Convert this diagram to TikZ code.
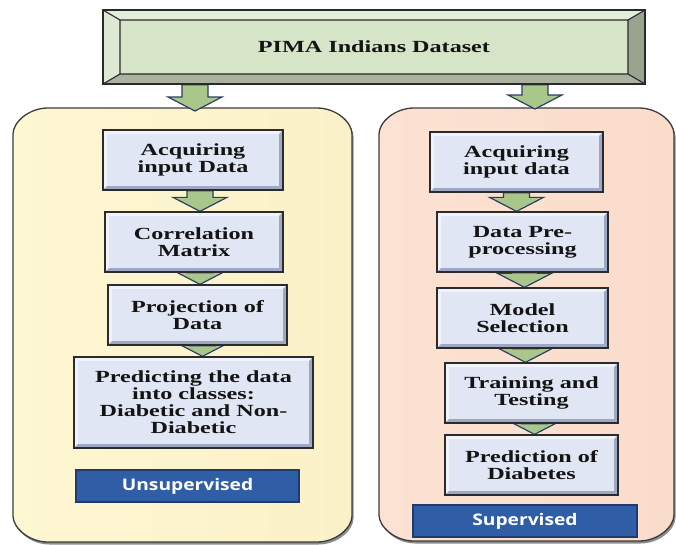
\documentclass[tikz,border=0pt]{standalone}
\usepackage{fontspec}
\setmainfont{Liberation Serif}
\newfontfamily\boxfont[FakeStretch=1.42]{Liberation Serif}
\newfontfamily\tagfont[FakeStretch=1.2]{Open Sans}
\usetikzlibrary{calc}
\pgfdeclarelayer{panels}
\pgfdeclarelayer{links}
\pgfsetlayers{panels,links,main}

\definecolor{textdark}{HTML}{141414}
\definecolor{bannerface}{HTML}{D6E4C8}
\definecolor{bannertop}{HTML}{E4EDDA}
\definecolor{bannerleft}{HTML}{DEE9D4}
\definecolor{bannerright}{HTML}{9AA38E}
\definecolor{bannerbottom}{HTML}{AAB39F}
\definecolor{framedark}{HTML}{2A2A2A}
\definecolor{yellowA}{HTML}{FDF7D2}
\definecolor{yellowB}{HTML}{FBF1C8}
\definecolor{peachA}{HTML}{FCE2D3}
\definecolor{peachB}{HTML}{FADCCB}
\definecolor{panelline}{HTML}{3C3C3C}
\definecolor{shadowgray}{HTML}{8C8C8C}
\definecolor{boxface}{HTML}{E1E6F5}
\definecolor{bevlight}{HTML}{F1F3FB}
\definecolor{bevdark}{HTML}{9EA8C3}
\definecolor{boxline}{HTML}{2B2B2B}
\definecolor{arrowfill}{HTML}{A9C78B}
\definecolor{arrowline}{HTML}{2D3F66}
\definecolor{tagfill}{HTML}{2F5DA6}
\definecolor{tagline}{HTML}{1E3A6E}

% four bevel strips inside a rectangular node: #1 = x width, #2 = y width
\newcommand\bevelstrips[4]{%
  \fill[#3] let \p1=(path picture bounding box.south west), \p2=(path picture bounding box.north east) in
    (\x1,\y2) -- (\x2,\y2) -- (\x2-#1,\y2-#2) -- (\x1+#1,\y2-#2) -- cycle;
  \fill[#3] let \p1=(path picture bounding box.south west), \p2=(path picture bounding box.north east) in
    (\x1,\y1) -- (\x1,\y2) -- (\x1+#1,\y2-#2) -- (\x1+#1,\y1+#2) -- cycle;
  \fill[#4] let \p1=(path picture bounding box.south west), \p2=(path picture bounding box.north east) in
    (\x2,\y1) -- (\x2,\y2) -- (\x2-#1,\y2-#2) -- (\x2-#1,\y1+#2) -- cycle;
  \fill[#4] let \p1=(path picture bounding box.south west), \p2=(path picture bounding box.north east) in
    (\x1,\y1) -- (\x2,\y1) -- (\x2-#1,\y1+#2) -- (\x1+#1,\y1+#2) -- cycle;
}

\begin{document}
\begin{tikzpicture}[x=1pt,y=-1pt,
  stepbox/.style={draw=boxline, line width=1.3pt, fill=boxface, text=textdark,
    align=center, inner sep=2pt,
    font=\boxfont\bfseries\fontsize{17}{17}\selectfont,
    path picture={\bevelstrips{4pt}{4pt}{bevlight}{bevdark}}},
  tagbox/.style={draw=tagline, line width=1.4pt, fill=tagfill, text=white,
    minimum height=32pt, inner sep=0pt,
    font=\tagfont\bfseries\fontsize{16}{16}\selectfont},
  blockarrow/.style={fill=arrowfill, draw=arrowline, line width=1.2pt, line join=miter,
    to path={let \p1=(\tikztostart), \p2=(\tikztotarget) in
      (\x1-13pt,\y1) -- (\x1+13pt,\y1) -- (\x1+13pt,\y2+14pt) -- (\x1+27pt,\y2+14pt)
      -- (\x1,\y2) -- (\x1-27pt,\y2+14pt) -- (\x1-13pt,\y2+14pt) -- cycle}},
  panelshape/.style={draw=panelline, line width=1.3pt},
]
\useasboundingbox (0,0) rectangle (676,544);

% ---------- dataset banner ----------
\node[draw=framedark, line width=1.3pt, fill=bannerface, minimum width=542pt,
      minimum height=74pt, inner sep=0pt, text=textdark,
      font=\boxfont\bfseries\fontsize{17}{17}\selectfont,
      path picture={%
        \fill[bannertop] let \p1=(path picture bounding box.south west), \p2=(path picture bounding box.north east) in
          (\x1,\y2) -- (\x2,\y2) -- (\x2-17pt,\y2-10pt) -- (\x1+17pt,\y2-10pt) -- cycle;
        \fill[bannerleft] let \p1=(path picture bounding box.south west), \p2=(path picture bounding box.north east) in
          (\x1,\y1) -- (\x1,\y2) -- (\x1+17pt,\y2-10pt) -- (\x1+17pt,\y1+10pt) -- cycle;
        \fill[bannerright] let \p1=(path picture bounding box.south west), \p2=(path picture bounding box.north east) in
          (\x2,\y1) -- (\x2,\y2) -- (\x2-17pt,\y2-10pt) -- (\x2-17pt,\y1+10pt) -- cycle;
        \fill[bannerbottom] let \p1=(path picture bounding box.south west), \p2=(path picture bounding box.north east) in
          (\x1,\y1) -- (\x2,\y1) -- (\x2-17pt,\y1+10pt) -- (\x1+17pt,\y1+10pt) -- cycle;
        \draw[framedark, line width=1.1pt] let \p1=(path picture bounding box.south west), \p2=(path picture bounding box.north east) in
          (\x1+17pt,\y1+10pt) rectangle (\x2-17pt,\y2-10pt)
          (\x1,\y1) -- (\x1+17pt,\y1+10pt) (\x2,\y1) -- (\x2-17pt,\y1+10pt)
          (\x1,\y2) -- (\x1+17pt,\y2-10pt) (\x2,\y2) -- (\x2-17pt,\y2-10pt);
      }] (banner) at (374,47) {PIMA Indians Dataset};

% ---------- unsupervised branch ----------
\node[stepbox, minimum width=180pt, minimum height=60pt] (L1) at (193,160) {Acquiring\\input Data};
\node[stepbox, minimum width=178pt, minimum height=60pt] (L2) at (194,242) {Correlation\\Matrix};
\node[stepbox, minimum width=179pt, minimum height=60pt] (L3) at (197.5,315) {Projection of\\Data};
\node[stepbox, minimum width=239pt, minimum height=91pt] (L4) at (193.5,402.5)
  {Predicting the data\\into classes:\\Diabetic and Non-\\Diabetic};
\node[tagbox, minimum width=223pt] (LU) at (187.5,486) {Unsupervised};

% ---------- supervised branch ----------
\node[stepbox, minimum width=173pt, minimum height=60pt] (R1) at (516.5,162) {Acquiring\\input data};
\node[stepbox, minimum width=171pt, minimum height=60pt] (R2) at (522.5,242) {Data Pre-\\processing};
\node[stepbox, minimum width=171pt, minimum height=60pt] (R3) at (522.5,318) {Model\\Selection};
\node[stepbox, minimum width=173pt, minimum height=60pt] (R4) at (531.5,393) {Training and\\Testing};
\node[stepbox, minimum width=173pt, minimum height=60pt] (R5) at (531.5,465) {Prediction of\\Diabetes};
\node[tagbox, minimum width=224pt] (RS) at (525,521) {Supervised};

% entry points on the panel tops
\coordinate (LpanelTop) at (195,111);
\coordinate (RpanelTop) at (535,109);

% ---------- rounded panels ----------
\begin{pgfonlayer}{panels}
  \fill[shadowgray, shift={(1.5,2.5)}]
    (13,134) .. controls (13,122.35) and (28.7,108) .. (48,108) -- (317,108)
    .. controls (336.3,108) and (352,122.35) .. (352,134) -- (352,516)
    .. controls (352,527.65) and (336.3,542) .. (317,542) -- (48,542)
    .. controls (28.7,542) and (13,527.65) .. (13,516) -- cycle;
  \shadedraw[panelshape, left color=yellowA, right color=yellowB]
    (13,134) .. controls (13,122.35) and (28.7,108) .. (48,108) -- (317,108)
    .. controls (336.3,108) and (352,122.35) .. (352,134) -- (352,516)
    .. controls (352,527.65) and (336.3,542) .. (317,542) -- (48,542)
    .. controls (28.7,542) and (13,527.65) .. (13,516) -- cycle;
  \fill[shadowgray, shift={(1.5,2.5)}]
    (379,134) .. controls (379,122.35) and (394.7,108) .. (414,108) -- (639,108)
    .. controls (658.3,108) and (674,122.35) .. (674,134) -- (674,515)
    .. controls (674,526.65) and (658.3,541) .. (639,541) -- (414,541)
    .. controls (394.7,541) and (379,526.65) .. (379,515) -- cycle;
  \shadedraw[panelshape, left color=peachA, right color=peachB]
    (379,134) .. controls (379,122.35) and (394.7,108) .. (414,108) -- (639,108)
    .. controls (658.3,108) and (674,122.35) .. (674,134) -- (674,515)
    .. controls (674,526.65) and (658.3,541) .. (639,541) -- (414,541)
    .. controls (394.7,541) and (379,526.65) .. (379,515) -- cycle;
\end{pgfonlayer}

% ---------- block arrows ----------
\begin{pgfonlayer}{links}
  \draw[blockarrow] (banner.south -| LpanelTop) to (LpanelTop);
  \draw[blockarrow] (banner.south -| RpanelTop) to (RpanelTop);
  \draw[blockarrow] ([xshift=7pt]L1.south) to ([xshift=6pt]L2.north);
  \draw[blockarrow] ([xshift=6pt]L2.south) to ([xshift=3pt]L3.north);
  \draw[blockarrow] ([xshift=5pt]L3.south) to ([xshift=9pt]L4.north);
  \draw[blockarrow] (R1.south) to (R2.north);
  \draw[blockarrow] ([xshift=2pt]R2.south) to (R3.north);
  \draw[blockarrow] ([xshift=3pt]R3.south) to (R4.north);
  \draw[blockarrow] ([xshift=3pt]R4.south) to (R5.north);
\end{pgfonlayer}
\end{tikzpicture}
\end{document}
